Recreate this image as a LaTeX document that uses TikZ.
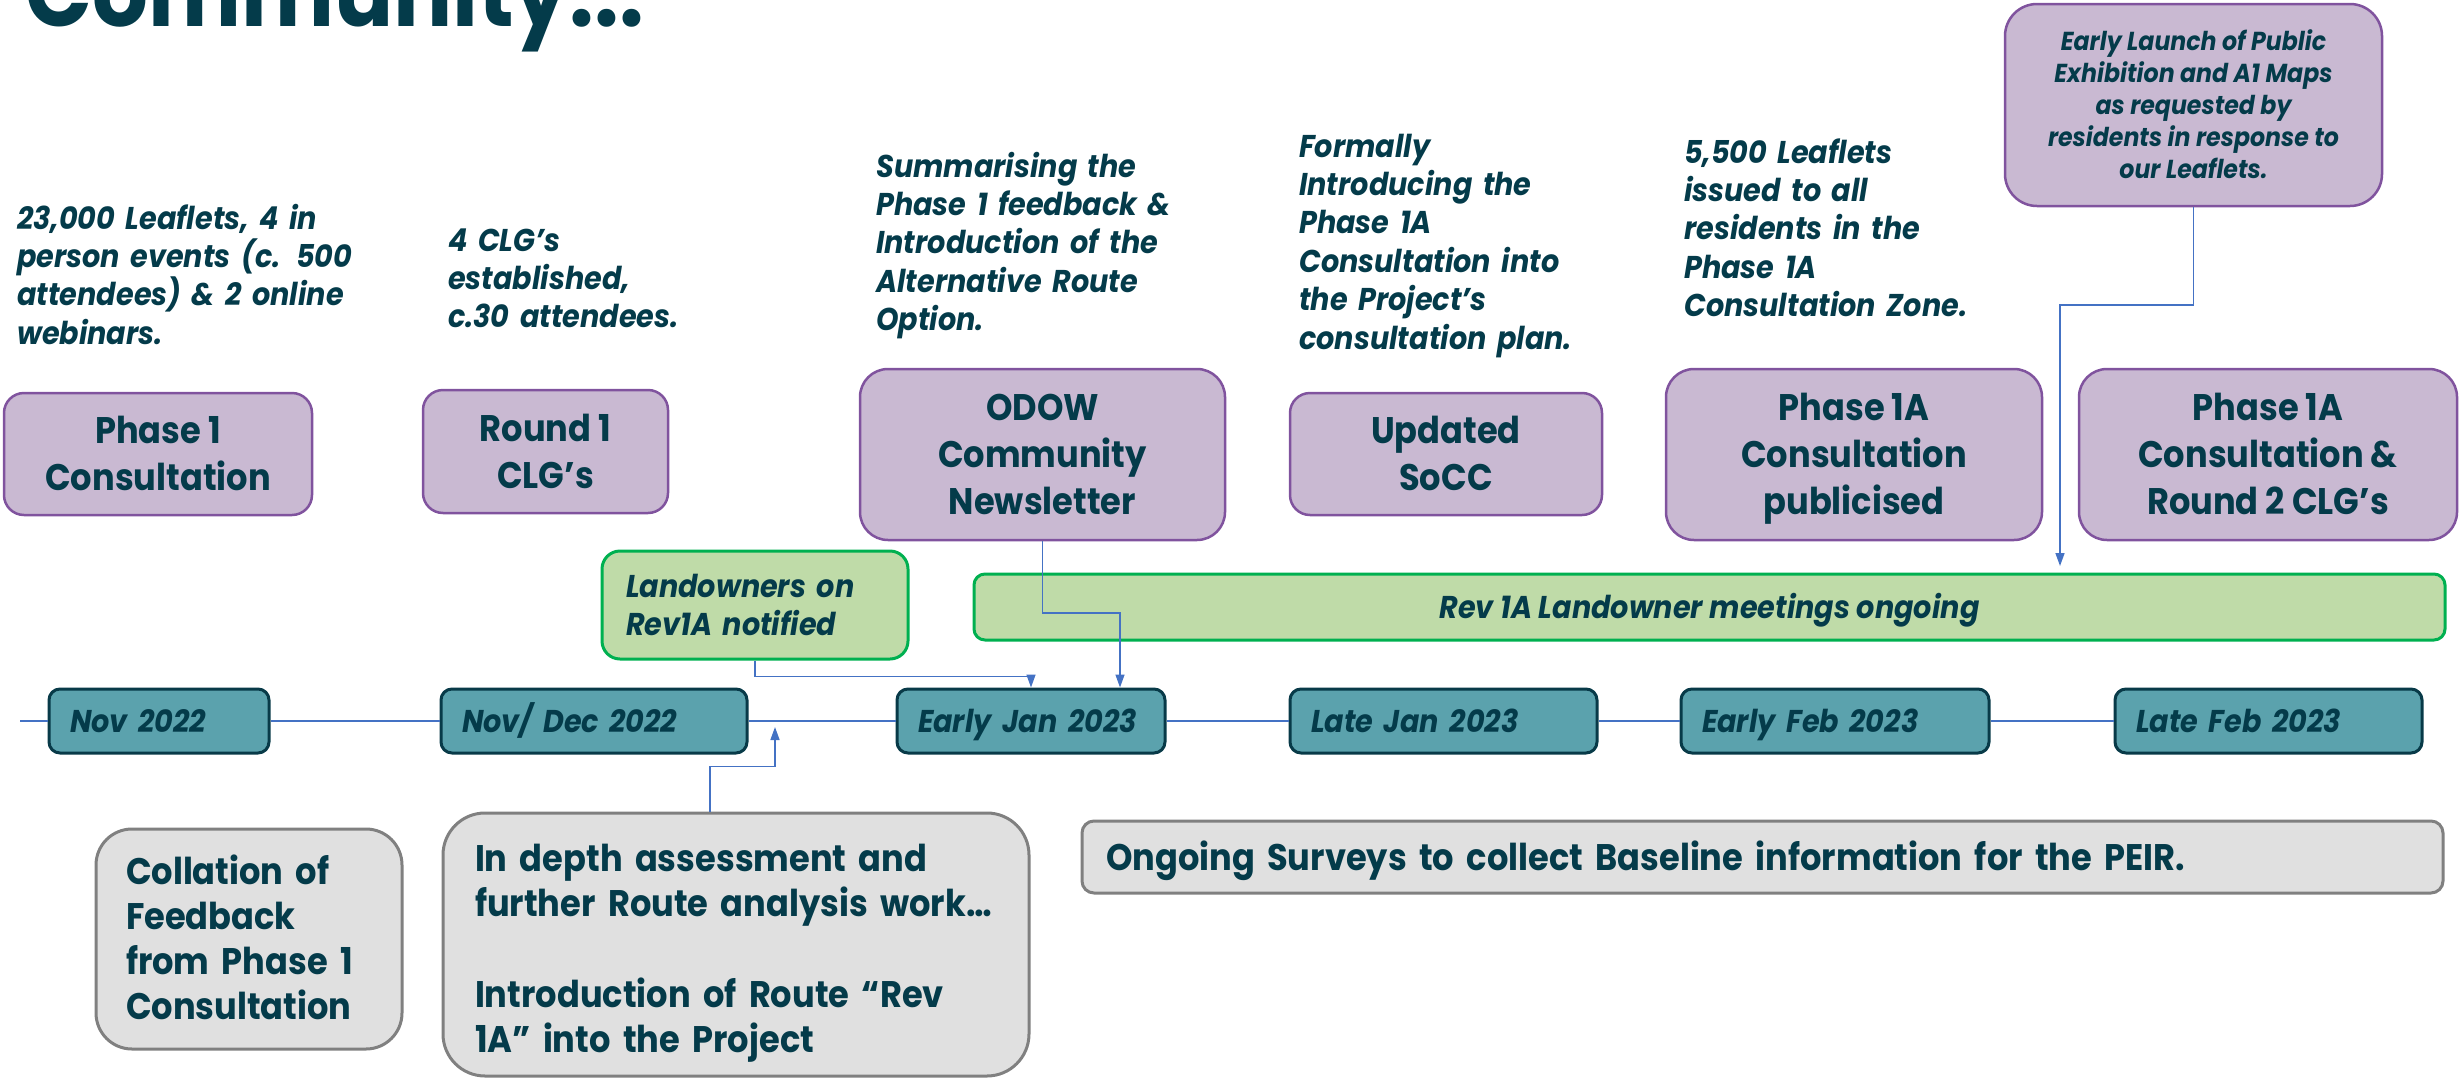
\documentclass[tikz,border=0pt]{standalone}
\usepackage{fontspec}
\setmainfont{Poppins}[FakeStretch=0.91]
\usetikzlibrary{arrows.meta,calc}
\definecolor{txt}{RGB}{4,59,74}
\definecolor{pfill}{RGB}{201,185,210}
\definecolor{pdraw}{RGB}{128,83,158}
\definecolor{dfill}{RGB}{91,162,173}
\definecolor{ddraw}{RGB}{8,58,72}
\definecolor{gfill}{RGB}{191,219,168}
\definecolor{gdraw}{RGB}{0,176,80}
\definecolor{grfill}{RGB}{224,224,224}
\definecolor{grdraw}{RGB}{128,128,128}
\definecolor{connc}{RGB}{68,114,196}
\tikzset{
  note/.style={anchor=base west, inner sep=0pt, text width=600pt, align=left, text=txt,
    font=\bfseries\itshape\fontsize{31.5}{38.4}\selectfont},
  purplebox/.style={draw=pdraw, line width=2.5pt, fill=pfill, text=txt, align=center,
    inner sep=0pt, font=\bfseries\fontsize{37}{47}\selectfont, text depth=0pt},
  datebox/.style={draw=ddraw, line width=3pt, fill=dfill, rounded corners=11pt, text=txt,
    align=left, inner xsep=21pt, inner ysep=0pt, minimum height=64pt, text height=22pt, text depth=0pt,
    font=\bfseries\itshape\fontsize{31.5}{36}\selectfont},
  greenbox/.style={draw=gdraw, line width=3pt, fill=gfill, text=txt, inner ysep=0pt,
    font=\bfseries\itshape\fontsize{31.5}{38}\selectfont, text height=22pt},
  graybox/.style={draw=grdraw, line width=3pt, fill=grfill, text=txt, align=left, inner ysep=0pt,
    font=\bfseries\fontsize{37}{45.3}\selectfont, text height=26pt},
  conn/.style={draw=connc, line width=1.5pt},
  arr/.style={conn, -{Triangle[length=13pt,width=9pt]}},
  tl/.style={draw=connc, line width=1.6pt}
}
\begin{document}
\begin{tikzpicture}[x=1pt,y=-1pt]
\useasboundingbox (0,0) rectangle (2461,1079);
\clip (0,0) rectangle (2461,1079);

% title
\node[anchor=base west, inner sep=0pt, text=txt, font=\bfseries\fontsize{96.5}{100}\selectfont] (title) at (25,26) {Community...};

% notes above
\node[note] (t1) at (17,229) {23,000 Leaflets, 4 in\\person events (c. 500\\attendees) \& 2 online\\webinars.};
\node[note] (t2) at (448,251) {4 CLG’s\\established,\\c.30 attendees.};
\node[note] (t3) at (876,177) {Summarising the\\Phase 1 feedback \&\\Introduction of the\\Alternative Route\\Option.};
\node[note] (t4) at (1299,157) {Formally\\Introducing the\\Phase 1A\\Consultation into\\the Project’s\\consultation plan.};
\node[note] (t5) at (1684,163) {5,500 Leaflets\\issued to all\\residents in the\\Phase 1A\\Consultation Zone.};

% purple boxes
\node[purplebox, minimum width=308pt, minimum height=122pt, rounded corners=20pt, text height=73pt] (p1) at (158,454) {Phase 1\\Consultation};
\node[purplebox, minimum width=245pt, minimum height=123pt, rounded corners=20pt, text height=73pt] (r1) at (545.5,451.5) {Round 1\\CLG’s};
\node[purplebox, minimum width=365pt, minimum height=171pt, rounded corners=28pt, text height=120pt] (odow) at (1042.5,454.5) {ODOW\\Community\\Newsletter};
\node[purplebox, minimum width=312pt, minimum height=122pt, rounded corners=20pt, text height=73pt] (socc) at (1446,454) {Updated\\SoCC};
\node[purplebox, minimum width=376pt, minimum height=171pt, rounded corners=28pt, text height=120pt] (pub) at (1854,454.5) {Phase 1A\\Consultation\\publicised};
\node[purplebox, minimum width=378pt, minimum height=171pt, rounded corners=28pt, text height=120pt] (r2) at (2268,454.5) {Phase 1A\\Consultation \&\\Round 2 CLG’s};
\node[purplebox, minimum width=377pt, minimum height=202pt, rounded corners=32pt, text height=146pt,
  font=\bfseries\itshape\fontsize{26}{32}\selectfont] (early) at (2193.5,105) {Early Launch of Public\\Exhibition and A1 Maps\\as requested by\\residents in response to\\our Leaflets.};

% green boxes
\node[greenbox, minimum width=306pt, minimum height=108pt, rounded corners=18pt, text width=258pt, align=left, text depth=38pt] (land) at (755,605) {Landowners on\\Rev1A notified};
\node[greenbox, minimum width=1471pt, minimum height=66pt, rounded corners=11pt, align=center, text depth=0pt] (rev) at (1709.5,607) {Rev 1A Landowner meetings ongoing};

% date boxes
\node[datebox, minimum width=220pt, text width=178pt] (nov) at (159,721) {Nov~2022};
\node[datebox, minimum width=306pt, text width=264pt] (novdec) at (594,721) {Nov/~Dec~2022};
\node[datebox, minimum width=268pt, text width=226pt] (ejan) at (1031,721) {Early~Jan~2023};
\node[datebox, minimum width=307pt, text width=265pt] (ljan) at (1443.5,721) {Late~Jan~2023};
\node[datebox, minimum width=308pt, text width=266pt] (efeb) at (1835,721) {Early~Feb~2023};
\node[datebox, minimum width=307pt, text width=265pt] (lfeb) at (2268.5,721) {Late~Feb~2023};

% timeline
\coordinate (tstart) at (20,721);
\draw[tl] (tstart) -- (nov.west);
\draw[tl] (nov.east) -- (novdec.west);
\draw[tl] (novdec.east) -- (ejan.west);
\draw[tl] (ejan.east) -- (ljan.west);
\draw[tl] (ljan.east) -- (efeb.west);
\draw[tl] (efeb.east) -- (lfeb.west);

% gray boxes
\node[graybox, minimum width=306pt, minimum height=220pt, rounded corners=36pt, inner xsep=30pt, text width=246pt, text depth=136pt] (coll) at (249,939) {Collation~of\\Feedback\\from~Phase~1\\Consultation};
\node[graybox, minimum width=586pt, minimum height=263pt, rounded corners=42pt, inner xsep=32pt, text width=522pt, text depth=172pt] (indepth) at (736,944.5) {In~depth~assessment~and\\further~Route~analysis~work…\\[45.3pt]Introduction~of~Route~“Rev\\1A”~into~the~Project};
\node[graybox, minimum width=1361pt, minimum height=72pt, rounded corners=12pt, inner xsep=24pt, text width=1313pt, text depth=0pt] (survey) at (1762.5,857) {Ongoing Surveys to collect Baseline information for the PEIR.};

% connectors
\draw[arr] (land.south) -- ++(0,16) -| (ejan.north);
\coordinate (c2) at (1120,613);
\draw[arr] (odow.south) |- (c2) -- (c2 |- ejan.north);
\coordinate (c3) at (775,727);
\draw[arr] ([xshift=-26pt]indepth.north) -- ++(0,-45) -| (c3);
\coordinate (c4) at (2060,305);
\coordinate (c4end) at (2060,566);
\draw[arr] (early.south) |- (c4) -- (c4end);
\end{tikzpicture}
\end{document}
